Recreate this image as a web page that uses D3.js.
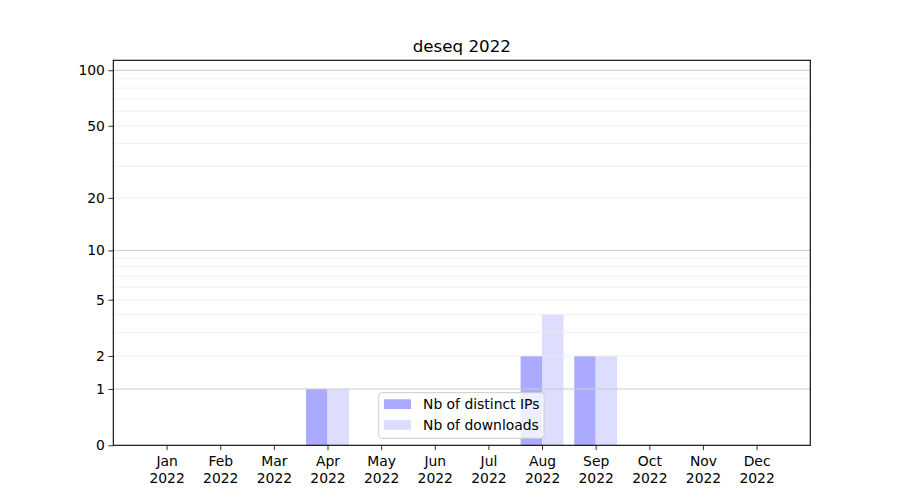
<!DOCTYPE html>
<html><head><meta charset="utf-8">
<script src="https://cdn.jsdelivr.net/npm/d3@7"></script>
<style>body{margin:0;background:#fff}svg text{font-family:"DejaVu Sans",sans-serif}</style>
</head><body><svg id="c" width="900" height="500"></svg>
<script>
const months = ["Jan","Feb","Mar","Apr","May","Jun","Jul","Aug","Sep","Oct","Nov","Dec"];
const year = "2022";
const distinctIPs = [0,0,0,1,0,0,0,2,2,0,0,0];
const downloads   = [0,0,0,1,0,0,0,4,2,0,0,0];
const yTicks = [0,1,2,5,10,20,50,100];
const majorGrid = [1,10,100];
const minorGrid = [2,3,4,5,6,7,8,9,20,30,40,50,60,70,80,90];
const title = "deseq 2022";
const seriesNames = ["Nb of distinct IPs","Nb of downloads"];
const colors = ["#aaaaff","#ddddff"];

const L=113.3,R=810.3,T=60.3,B=445.3;
const svg=d3.select("#c");
const x=d3.scaleLinear().domain([0,11]).range([166.6,756.6]);
const y=d3.scaleSymlog().constant(1).domain([0,113.2]).range([B,T]);
const bw=0.4;

const g=svg.append("g");
[distinctIPs,downloads].forEach((arr,si)=>{
  g.selectAll(null).data(arr).enter().append("rect")
   .attr("x",(d,i)=>x(i+(si===0?-bw:0)))
   .attr("width",x(bw)-x(0))
   .attr("y",d=>y(d)).attr("height",d=>y(0)-y(d))
   .attr("fill",colors[si]);
});
g.selectAll(null).data(minorGrid).enter().append("line")
 .attr("x1",L).attr("x2",R).attr("y1",d=>y(d)).attr("y2",d=>y(d))
 .attr("stroke","#ebebeb").attr("stroke-width",0.8);
g.selectAll(null).data(majorGrid).enter().append("line")
 .attr("x1",L).attr("x2",R).attr("y1",d=>y(d)).attr("y2",d=>y(d))
 .attr("stroke","#cccccc").attr("stroke-width",1);

const xa=svg.append("g").attr("transform",`translate(0,${B})`)
 .call(d3.axisBottom(x).tickValues(d3.range(12)).tickSize(4.9).tickPadding(3).tickFormat(()=>""));
xa.select(".domain").remove();
xa.selectAll(".tick line").attr("stroke","#000").attr("stroke-width",0.8);
xa.selectAll(".tick").each(function(d){
  const t=d3.select(this).select("text").attr("font-size","13.9px").attr("fill","#000").attr("dy",null).attr("y",0);
  t.append("tspan").attr("x",0).attr("y",21).text(months[d]);
  t.append("tspan").attr("x",0).attr("y",37.5).text(year);
});
const ya=svg.append("g").attr("transform",`translate(${L},0)`)
 .call(d3.axisLeft(y).tickValues(yTicks).tickSize(4.9).tickPadding(3.5).tickFormat(d3.format("d")));
ya.select(".domain").remove();
ya.selectAll(".tick line").attr("stroke","#000").attr("stroke-width",0.8);
ya.selectAll(".tick text").attr("font-size","13.9px").attr("fill","#000");

svg.append("rect").attr("x",L).attr("y",T).attr("width",R-L).attr("height",B-T)
 .attr("fill","none").attr("stroke","#000").attr("stroke-width",1.1);

svg.append("text").attr("x",(L+R)/2).attr("y",T-8).attr("text-anchor","middle")
 .attr("font-size","16.7px").attr("fill","#000").text(title);

const lg=svg.append("g");
lg.append("rect").attr("x",378.7).attr("y",392.7).attr("width",165.3).attr("height",45.6)
 .attr("rx",3).attr("fill","#fff").attr("fill-opacity",0.8).attr("stroke","#cccccc").attr("stroke-width",1);
seriesNames.forEach((n,i)=>{
  lg.append("rect").attr("x",384).attr("y",399.3+i*20.8).attr("width",27).attr("height",9.7).attr("fill",colors[i]);
  lg.append("text").attr("x",423).attr("y",404.2+i*20.8).attr("dy","0.35em").attr("font-size","13.9px").attr("fill","#000").text(n);
});
</script></body></html>
